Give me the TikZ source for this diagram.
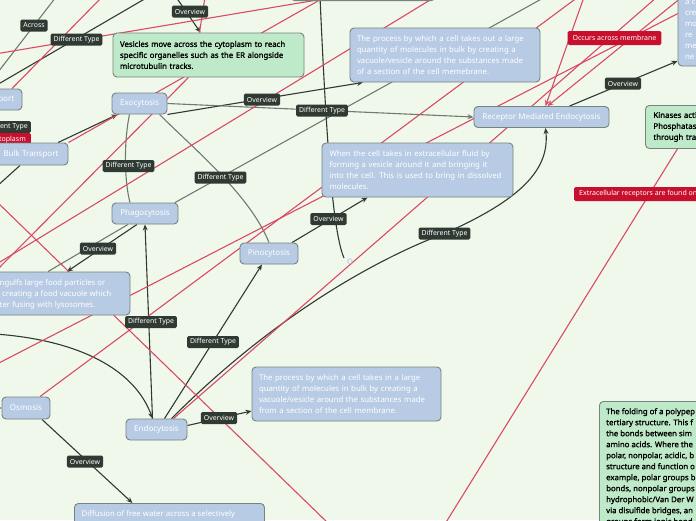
\documentclass[tikz,border=0pt]{standalone}
\usepackage{fontspec}
\setmainfont{Noto Sans}
\newfontfamily\semib[FakeBold=1.4]{Noto Sans}
\usetikzlibrary{arrows.meta}
\definecolor{bgc}{HTML}{F0F8EC}
\definecolor{bluef}{HTML}{B8CBE4}
\definecolor{greenf}{HTML}{BFEAC9}
\definecolor{bord}{HTML}{76837F}
\definecolor{lblf}{HTML}{2F3A33}
\definecolor{redf}{HTML}{C8102E}
\definecolor{redl}{HTML}{DA4A64}
\definecolor{dkl}{HTML}{2F3A33}
\definecolor{gyl}{HTML}{6E7B70}
\definecolor{ofont}{HTML}{A9BEDD}
\pgfdeclarelayer{bgl}
\pgfdeclarelayer{lines}
\pgfsetlayers{bgl,lines,main}
\begin{document}
\begin{tikzpicture}[x=1pt,y=-1pt,
 box/.style={draw=bord, line width=0.9pt, rounded corners=4pt, inner sep=0pt},
 bluebox/.style={box, fill=bluef, text=white},
 greenbox/.style={box, fill=greenf, text=black},
 topic/.style={bluebox, font=\fontsize{8}{10}\selectfont},
 para/.style={font=\fontsize{7.8}{11}\selectfont, align=left},
 gpara/.style={font=\semib\fontsize{7.8}{11}\selectfont, align=left},
 lbl/.style={fill=lblf, text=white, rounded corners=1.5pt, inner xsep=3pt, inner ysep=0pt, minimum height=12pt, font=\fontsize{6.9}{8}\selectfont},
 rlbl/.style={fill=redf, text=white, rounded corners=1.5pt, inner xsep=5pt, inner ysep=0pt, minimum height=14pt, font=\fontsize{7}{8}\selectfont},
 dk/.style={draw=dkl, line width=1.1pt},
 gy/.style={draw=gyl, line width=1.1pt},
 rd/.style={draw=redl, line width=1.1pt},
 tip/.style={-{Stealth[length=6pt,width=5pt]}},
]
\useasboundingbox (0,0) rectangle (696,520);
\begin{pgfonlayer}{bgl}
\fill[bgc] (0,0) rectangle (696,520);
\end{pgfonlayer}

% ---------- nodes ----------
\node[box, fill=bluef, minimum width=145pt, minimum height=40pt, anchor=south west] (topn) at (290,1) {};
\node[topic, minimum width=52pt, minimum height=21pt] (transport) at (-4,99.5) {Transport};
\node[lbl, anchor=east] (dtl) at (31,127) {Different Type};
\node[rlbl, anchor=east] (cyto) at (31,140) {Cytoplasm};
\node[topic, minimum width=74pt, minimum height=22pt] (bulk) at (31,154) {Bulk Transport};
\node[topic, minimum width=55pt, minimum height=21pt] (exo) at (139.5,103.5) {Exocytosis};
\node[greenbox, gpara, minimum width=191pt, minimum height=44pt, text width=177pt] (ves) at (208.5,55) {Vesicles move across the cytoplasm to reach\\specific organelles such as the ER alongside\\microtubulin tracks.};
\node[bluebox, para, minimum width=190pt, minimum height=54pt, text width=176pt] (takeout) at (445,55) {The process by which a cell takes out a large\\quantity of molecules in bulk by creating a\\vacuole/vesicle around the substances made\\of a section of the cell memebrane.};
\node[topic, minimum width=135pt, minimum height=21pt] (rme) at (541.5,117) {Receptor Mediated Endocytosis};
\node[rlbl] (occ) at (614.5,38) {Occurs across membrane};
\node[bluebox, para, minimum width=90pt, minimum height=73pt, text width=76pt] (trb) at (723,29.5) {a c\\cre\\mo\\re\\me\\ne};
\node[lbl] (ovtr) at (623,83.5) {Overview};
\node[greenbox, gpara, anchor=north west, minimum width=96pt, minimum height=43pt, text width=80pt] (kin) at (645,105) {Kinases acti\\Phosphatas\\through tra};
\node[rlbl, anchor=west] (extr) at (574,194) {Extracellular receptors are found on};
\node[bluebox, para, minimum width=191pt, minimum height=54pt, text width=176pt] (when) at (417.5,170) {When the cell takes in extracellular fluid by\\forming a vesicle around it and bringing it\\into the cell. This is used to bring in dissolved\\molecules.};
\node[lbl] (ovpino) at (328.5,219) {Overview};
\node[topic, minimum width=58pt, minimum height=21pt] (pino) at (269,253.5) {Pinocytosis};
\node[topic, minimum width=66pt, minimum height=21pt] (phago) at (145,213.5) {Phagocytosis};
\node[lbl] (dt1) at (128.5,166) {Different Type};
\node[lbl] (dt2) at (220.5,177.5) {Different Type};
\node[lbl] (dt3) at (322,110.5) {Different Type};
\node[lbl] (ovexo) at (262,99.5) {Overview};
\node[lbl] (ovtop) at (190,11.5) {Overview};
\node[lbl] (across) at (34,25.5) {Across};
\node[lbl] (dttop) at (76.5,39.5) {Different Type};
\node[bluebox, minimum width=190pt, minimum height=43pt] (phtext) at (35,293.5) {};
\node[para, text=white, anchor=west, inner sep=0pt] (phtextt) at (-0.5,294) {ngulfs large food particles or\\\hspace*{2.5pt}creating a food vacuole which\\ter fusing with lysosomes.};
\node[lbl] (ovphago) at (98,248.5) {Overview};
\node[lbl] (dt4) at (151,322) {Different Type};
\node[lbl] (dt5) at (213,342) {Different Type};
\node[lbl] (dt6) at (444.5,233.5) {Different Type};
\node[text=ofont, font=\fontsize{7.5}{8}\selectfont, inner sep=1pt] (onode) at (350,262) {O};
\node[topic, minimum width=48pt, minimum height=22pt] (osm) at (26,408) {Osmosis};
\node[topic, minimum width=61pt, minimum height=21pt] (endo) at (156.5,429.5) {Endocytosis};
\node[lbl] (ovendo) at (219,418) {Overview};
\node[bluebox, para, minimum width=189pt, minimum height=54pt, text width=175pt] (endot) at (346.5,394) {The process by which a cell takes in a large\\quantity of molecules in bulk by creating a\\vacuole/vesicle around the substances made\\from a section of the cell membrane.};
\node[lbl] (ovosm) at (85,461.5) {Overview};
\node[bluebox, minimum width=190pt, minimum height=40pt, anchor=north west] (diff) at (74,503) {};
\node[para, text=white, anchor=west, inner sep=0pt] (difft) at (81.5,514) {Diffusion of free water across a selectively};
\node[greenbox, anchor=north west, minimum width=120pt, minimum height=140pt] (fold) at (599,401) {};
\node[gpara, anchor=north west, inner sep=0pt] (foldt) at (606,408) {The folding of a polypep\\tertiary structure. This f\\the bonds between sim\\amino acids. Where the\\polar, nonpolar, acidic, b\\structure and function o\\example, polar groups b\\bonds, nonpolar groups\\hydrophobic/Van Der W\\via disulfide bridges, an\\groups form ionic bond};

% ---------- free ends ----------
\coordinate (f1) at (176,-3);
\coordinate (f2) at (-5,76);
\coordinate (f3) at (56,-3);
\coordinate (f4) at (-5,86);
\coordinate (f5) at (148,-3);
\coordinate (f6) at (545,-3);
\coordinate (f7) at (-5,334);
\coordinate (f8) at (-10,408);
\coordinate (f9) at (-5,188);
\coordinate (f10) at (320,-3);
\coordinate (r1a) at (-5,54);   \coordinate (r1b) at (335,-3);
\coordinate (r2b) at (102,-3);
\coordinate (r3b) at (332,-7);
\coordinate (r4a) at (-5,265);  \coordinate (r4b) at (435,-3);
\coordinate (r5a) at (-5,200);  \coordinate (r5b) at (330,525);
\coordinate (r6b) at (578,-3);
\coordinate (r7a) at (-5,365);  \coordinate (r7b) at (710,-3);
\coordinate (r8b) at (657,-3);
\coordinate (r9a) at (682,-3);
\coordinate (r10a) at (584,-3);
\coordinate (r11b) at (440,532);
\coordinate (r12a) at (-5,272);
\coordinate (r13a) at (205,-3);

% ---------- connectors ----------
\begin{pgfonlayer}{lines}
\draw[dk,tip] (f1) -- ([xshift=-8pt]ves.north);
\draw[gy] (f2) -- (f3);
\draw[dk] (f4) -- (f5);
\draw[dk,tip] ([xshift=27pt]bulk.north) -- ([xshift=-22pt]exo.south);
\draw[dk,tip] (exo.south east) -- ([xshift=-82pt]takeout.south);
\draw[gy,tip] (exo.east) -- (rme.west);
\draw[gy] ([xshift=30pt]phago.north) -- (f6);
\draw[gy] ([xshift=-10pt]exo.south) .. controls (124,140) and (124,180) .. ([xshift=-15pt]phago.north);
\draw[gy] ([xshift=20pt]exo.south) .. controls (195,150) and (250,195) .. (pino.north);
\draw[dk,tip] ([xshift=-8pt]phago.south) -- ([xshift=32pt]phtext.north);
\draw[gy] ([xshift=-17pt]phago.south) -- ([xshift=13pt]phtext.north);
\draw[dk,tip] ([xshift=23pt]pino.north) -- ([xshift=-50pt]when.south);
\draw[dk,tip] ([xshift=-4pt]endo.north) -- (phago.south);
\draw[dk,tip] ([xshift=8pt]endo.north) -- ([xshift=-7pt]pino.south);
\draw[dk,tip] ([xshift=15pt]endo.north) .. controls (290,300) and (400,250) .. (dt6.center) .. controls (520,200) and (550,170) .. ([xshift=4pt]rme.south);
\draw[dk,tip] (f7) .. controls (80,340) and (135,370) .. ([xshift=-4pt]endo.north);
\draw[dk,tip] ([yshift=4pt]endo.east) -- ([yshift=-17pt]endot.west);
\draw[dk,tip] ([xshift=16pt]osm.south) -- ([xshift=-37pt]diff.north);
\draw[dk,tip] (f8) -- (osm.west);
\draw[dk] ([xshift=-11pt]bulk.south) -- (f9);
\draw[dk,tip] ([xshift=28pt]rme.north) -- ([yshift=-31.5pt]trb.west);
\draw[dk] (f10) .. controls (326,130) and (332,230) .. ([xshift=-6pt]onode.north);
% relationships
\draw[rd] (r1a) -- (r1b);
\draw[rd] ([xshift=16pt]transport.north) -- (r2b);
\draw[rd] (bulk.north east) -- (r3b);
\draw[rd] (r4a) -- (r4b);
\draw[rd] (r5a) -- (r5b);
\draw[rd] ([xshift=14pt]osm.north) -- (r6b);
\draw[rd] (r7a) -- (r7b);
\draw[rd] ([xshift=17pt]endo.north) -- (r8b);
\draw[rd,tip] (r9a) -- ([xshift=6pt]rme.north);
\draw[rd,tip] (r10a) -- ([xshift=4pt]rme.north);
\draw[rd] ([xshift=-16pt]kin.south) -- (r11b);
\draw[rd] (r12a) -- ([xshift=-20pt]ves.south);
\draw[rd] (r13a) -- ([xshift=-9pt]ves.north);
\end{pgfonlayer}
\end{tikzpicture}
\end{document}
